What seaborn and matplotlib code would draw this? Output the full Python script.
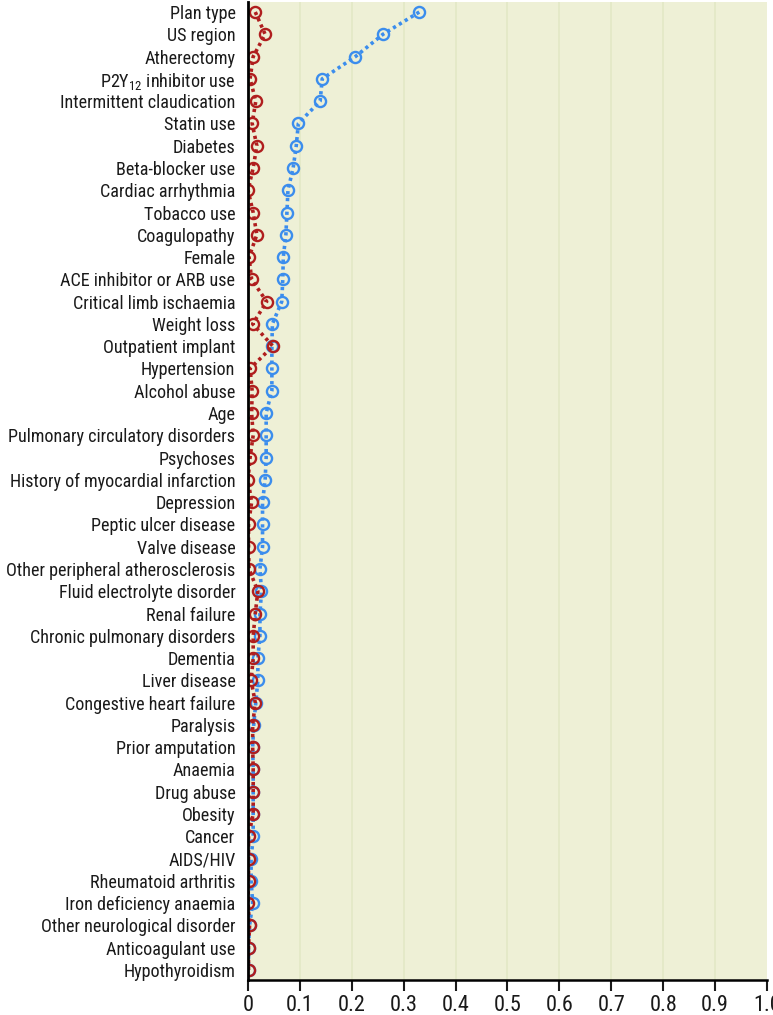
import numpy as np
import pandas as pd
import matplotlib
matplotlib.use("Agg")
import matplotlib.pyplot as plt
import seaborn as sns

# Covariates, top to bottom
labels = [
    "Plan type", "US region", "Atherectomy", "P2Y$_{12}$ inhibitor use",
    "Intermittent claudication", "Statin use", "Diabetes", "Beta-blocker use",
    "Cardiac arrhythmia", "Tobacco use", "Coagulopathy", "Female",
    "ACE inhibitor or ARB use", "Critical limb ischaemia", "Weight loss",
    "Outpatient implant", "Hypertension", "Alcohol abuse", "Age",
    "Pulmonary circulatory disorders", "Psychoses",
    "History of myocardial infarction", "Depression", "Peptic ulcer disease",
    "Valve disease", "Other peripheral atherosclerosis",
    "Fluid electrolyte disorder", "Renal failure", "Chronic pulmonary disorders",
    "Dementia", "Liver disease", "Congestive heart failure", "Paralysis",
    "Prior amputation", "Anaemia", "Drug abuse", "Obesity", "Cancer",
    "AIDS/HIV", "Rheumatoid arthritis", "Iron deficiency anaemia",
    "Other neurological disorder", "Anticoagulant use", "Hypothyroidism",
]

# standardized differences before matching (blue)
before = [
    0.330, 0.260, 0.207, 0.143, 0.139, 0.097, 0.093, 0.087, 0.077, 0.075,
    0.073, 0.068, 0.067, 0.065, 0.047, 0.046, 0.046, 0.046, 0.035, 0.035,
    0.035, 0.033, 0.028, 0.028, 0.028, 0.023, 0.026, 0.023, 0.023, 0.019,
    0.019, 0.015, 0.011, 0.009, 0.010, 0.010, 0.010, 0.010, 0.006, 0.006,
    0.009, 0.003, 0.001, 0.001,
]

# standardized differences after matching (red)
after = [
    0.014, 0.033, 0.010, 0.004, 0.015, 0.008, 0.017, 0.010, 0.000, 0.010,
    0.017, 0.002, 0.007, 0.036, 0.009, 0.048, 0.004, 0.008, 0.007, 0.010,
    0.004, 0.000, 0.007, 0.001, 0.001, 0.002, 0.019, 0.014, 0.010, 0.010,
    0.006, 0.014, 0.009, 0.009, 0.010, 0.010, 0.010, 0.001, 0.001, 0.001,
    0.000, 0.003, 0.001, 0.001,
]

pos = np.arange(len(labels))
df_before = pd.DataFrame({"value": before, "pos": pos})
df_after = pd.DataFrame({"value": after, "pos": pos})

sns.set_style("white")
plt.rcParams["font.family"] = ["Roboto Condensed", "DejaVu Sans"]
plt.rcParams["font.stretch"] = "condensed"
plt.rcParams["mathtext.fontset"] = "custom"
plt.rcParams["mathtext.rm"] = "Roboto Condensed"
plt.rcParams["mathtext.it"] = "Roboto Condensed"
plt.rcParams["mathtext.default"] = "rm"

fig = plt.figure(figsize=(7.73, 10.15), dpi=100)
ax = fig.add_axes([248 / 773, 1 - 980 / 1015, 519 / 773, 978 / 1015])
ax.set_facecolor("#eef0d6")

blue = "#3b8ded"
red = "#b01e1e"

for d, c, z in [(df_before, blue, 3), (df_after, red, 4)]:
    sns.lineplot(data=d, x="value", y="pos", sort=False, orient="y",
                 ax=ax, color=c, linestyle=(0, (0.9, 1.0)), linewidth=2.6,
                 marker="o", markersize=8, markerfacecolor="none",
                 markeredgecolor=c, markeredgewidth=1.7, zorder=z)

ax.set_xlim(0, 1.0)
ax.set_ylim(len(labels) - 1 + 0.45, -0.45)
ax.set_xticks(np.arange(0, 1.01, 0.1))
ax.set_xticklabels(["0"] + [f"{v:.1f}" for v in np.arange(0.1, 1.01, 0.1)])
ax.set_yticks(pos)
ax.set_yticklabels(labels)
ax.set_xlabel("")
ax.set_ylabel("")

for v in np.arange(0.1, 1.0, 0.1):
    ax.axvline(v, color="#e2e8c6", linewidth=1.2, zorder=0)

for s in ["top", "right"]:
    ax.spines[s].set_visible(False)
ax.spines["left"].set_linewidth(2)
ax.spines["bottom"].set_linewidth(1.8)
ax.spines["left"].set_color("black")
ax.spines["bottom"].set_color("black")
ax.spines["left"].set_zorder(5)

ax.tick_params(axis="x", direction="out", length=8, width=1.5,
               labelsize=16, pad=3, bottom=True, colors="#1a1a1a")
ax.tick_params(axis="y", length=0, labelsize=17, pad=9, labelcolor="#1a1a1a")

# shrink the label font until the longest label fits left of the axis
fig.canvas.draw()
r = fig.canvas.get_renderer()
widest = max(t.get_window_extent(r).width for t in ax.get_yticklabels())
if widest > 230:
    ax.tick_params(axis="y", labelsize=17 * 230 / widest)

fig.savefig("out.png", dpi=100)
